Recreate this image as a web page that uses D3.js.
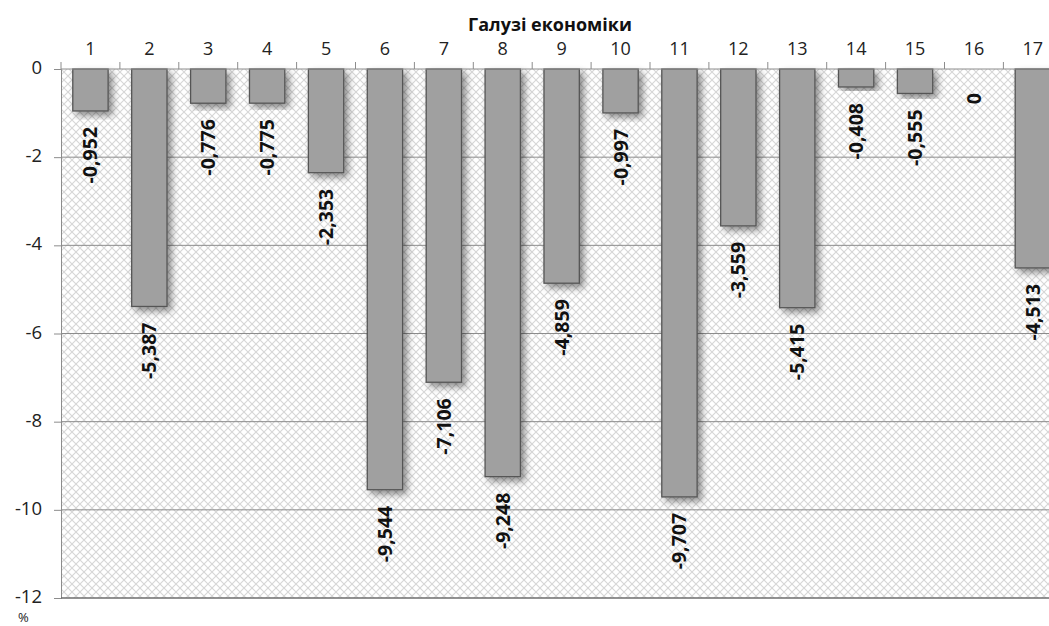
<!DOCTYPE html>
<html><head><meta charset="utf-8">
<script src="https://cdn.jsdelivr.net/npm/d3@7"></script>
<style>body{margin:0;background:#fff}svg{display:block}</style>
</head><body>
<script>
const categories = ["1","2","3","4","5","6","7","8","9","10","11","12","13","14","15","16","17"];
const values = [-0.952,-5.387,-0.776,-0.775,-2.353,-9.544,-7.106,-9.248,-4.859,-0.997,-9.707,-3.559,-5.415,-0.408,-0.555,0,-4.513];
const labels = ["-0,952","-5,387","-0,776","-0,775","-2,353","-9,544","-7,106","-9,248","-4,859","-0,997","-9,707","-3,559","-5,415","-0,408","-0,555","0","-4,513"];
const yTicks = [0,-2,-4,-6,-8,-10,-12];
const title = "Галузі економіки";
const unit = "%";

const W = 1049, H = 626;
const svg = d3.select("body").append("svg").attr("width", W).attr("height", H);
const font = "'Open Sans', 'Noto Sans', sans-serif";

const x = d3.scaleBand().domain(categories).range([61, 61 + 17 * 58.9]).paddingInner(0.4).paddingOuter(0.2);
const y = d3.scaleLinear().domain([0, -12]).range([69, 598]);

const defs = svg.append("defs");
const pat = defs.append("pattern").attr("id", "hatch").attr("patternUnits", "userSpaceOnUse")
  .attr("width", 8).attr("height", 8);
pat.append("rect").attr("width", 8).attr("height", 8).attr("fill", "#fff");
pat.append("path").attr("d", "M0,0 L8,8 M8,0 L0,8").attr("stroke", "#d6d6d6").attr("stroke-width", 1.1);
const f = defs.append("filter").attr("id", "shadow").attr("x", "-30%").attr("y", "-10%").attr("width", "170%").attr("height", "130%");
f.append("feDropShadow").attr("dx", 4).attr("dy", 4).attr("stdDeviation", 3.5).attr("flood-color", "#000").attr("flood-opacity", 0.45);

const x0 = 61, x1 = 61 + 17 * 58.9;
svg.append("rect").attr("x", x0).attr("y", y(0)).attr("width", x1 - x0).attr("height", y(-12) - y(0)).attr("fill", "url(#hatch)");

// gridlines
svg.append("g").selectAll("line").data(yTicks.filter(d => d !== 0 && d !== -12)).join("line")
  .attr("x1", x0).attr("x2", x1).attr("y1", d => y(d)).attr("y2", d => y(d))
  .attr("stroke", "#8c8c8c").attr("stroke-width", 1);

// y axis
const yAxis = d3.axisLeft(y).tickValues(yTicks).tickSize(7).tickFormat(d => d === 0 ? "0" : "-" + Math.abs(d));
const gy = svg.append("g").attr("transform", `translate(${x0},0)`).call(yAxis);
gy.select(".domain").attr("stroke", "#8c8c8c");
gy.selectAll(".tick line").attr("stroke", "#8c8c8c");
gy.selectAll(".tick text").attr("font-family", font).attr("font-size", 18.5).attr("fill", "#222").attr("x", -19).attr("dy", "0.25em");

// bottom line
svg.append("line").attr("x1", x0).attr("x2", x1).attr("y1", y(-12)).attr("y2", y(-12)).attr("stroke", "#6e6e6e").attr("stroke-width", 1.3);

// bars
svg.append("g").selectAll("rect").data(values.map((v, i) => ({v, c: categories[i]}))).join("rect")
  .attr("x", d => x(d.c)).attr("width", x.bandwidth())
  .attr("y", y(0)).attr("height", d => y(d.v) - y(0))
  .attr("fill", "#a0a0a0").attr("stroke", "#555").attr("stroke-width", 1.3)
  .attr("filter", d => d.v === 0 ? null : "url(#shadow)");

// top axis
const xAxis = d3.axisTop(x).tickSize(0).tickPadding(14);
const gx = svg.append("g").attr("transform", `translate(0,${y(0)})`).call(xAxis);
gx.select(".domain").remove();
gx.selectAll(".tick text").attr("font-family", font).attr("font-size", 18).attr("fill", "#222");
svg.append("line").attr("x1", x0).attr("x2", x1).attr("y1", y(0)).attr("y2", y(0)).attr("stroke", "#8c8c8c");
svg.append("g").selectAll("line").data(d3.range(18)).join("line")
  .attr("x1", i => x0 + i * x.step()).attr("x2", i => x0 + i * x.step())
  .attr("y1", y(0)).attr("y2", y(0) - 7).attr("stroke", "#8c8c8c");

// data labels
svg.append("g").selectAll("text").data(values.map((v, i) => ({v, c: categories[i], t: labels[i]}))).join("text")
  .attr("transform", d => `translate(${x(d.c) + x.bandwidth() / 2 + 7},${y(d.v) + (d.v === 0 ? 24 : 16)}) rotate(-90)`)
  .attr("text-anchor", "end")
  .attr("font-family", font).attr("font-size", 19.5).attr("font-weight", "bold").attr("fill", "#111")
  .text(d => d.t);

// title
svg.append("text").attr("x", 550).attr("y", 31).attr("text-anchor", "middle")
  .attr("font-family", font).attr("font-size", 18).attr("font-weight", "bold").attr("fill", "#111").text(title);
svg.append("text").attr("x", 18).attr("y", 622).attr("font-family", font).attr("font-size", 13).attr("fill", "#222").text(unit);
</script>
</body></html>
